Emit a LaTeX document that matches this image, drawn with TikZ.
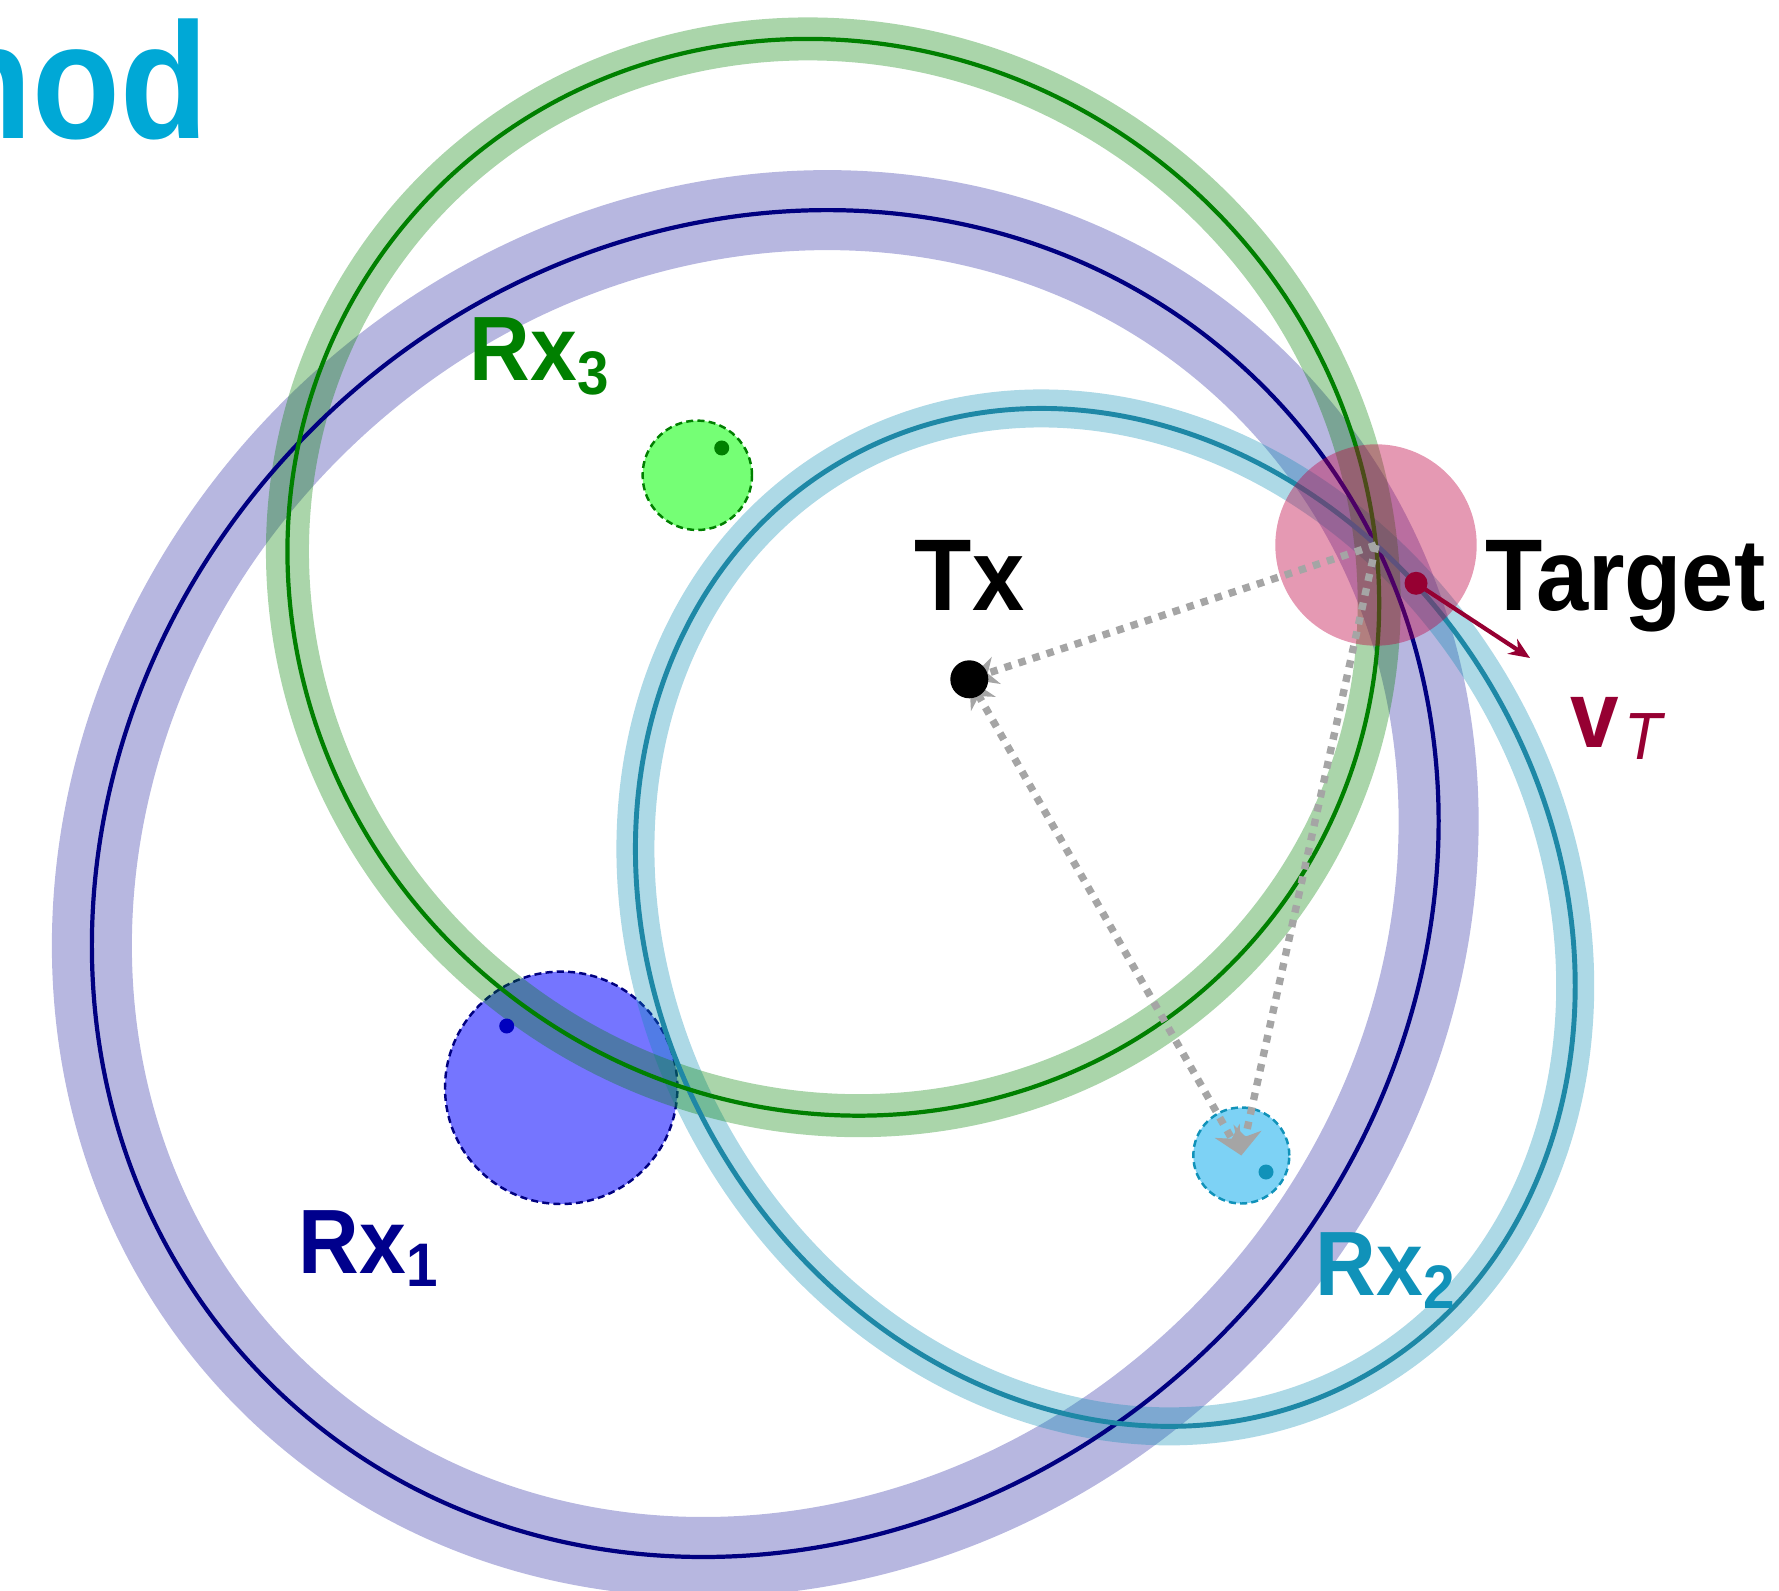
\documentclass[tikz,border=0pt]{standalone}
\usepackage{fontspec}
\setmainfont[FakeStretch=0.92]{Liberation Sans}
\newfontfamily\titlefont[FakeStretch=0.87]{Liberation Sans}
\usetikzlibrary{arrows.meta}

\definecolor{titlecyan}{RGB}{0,168,214}
\definecolor{rxonec}{RGB}{0,0,140}
\definecolor{rxonedot}{RGB}{0,0,190}
\definecolor{navyline}{RGB}{0,0,128}
\definecolor{bandblue}{RGB}{60,60,170}
\definecolor{fillblue}{RGB}{117,117,255}
\definecolor{rxthreec}{RGB}{0,128,0}
\definecolor{fillgreen}{RGB}{117,255,117}
\definecolor{rxtwoc}{RGB}{16,146,185}
\definecolor{lineteal}{RGB}{30,136,166}
\definecolor{bandteal}{RGB}{10,140,180}
\definecolor{fillcyan}{RGB}{125,210,245}
\definecolor{estpink}{RGB}{191,0,64}
\definecolor{targetred}{RGB}{150,0,50}
\definecolor{pathgray}{RGB}{165,165,165}

% transmitter and estimated target position (cm)
\def\TxX{9.693}\def\TxY{9.107}
\def\EX{13.76}\def\EY{10.45}

% bistatic range ellipse: foci Tx and receiver (#1,#2), through the estimate
\newcommand\rangeellipse[3]{%
  \pgfmathsetmacro\elA{0.5*(veclen(\EX-\TxX,\EY-\TxY)+veclen(\EX-#1,\EY-#2))}%
  \pgfmathsetmacro\elC{0.5*veclen(#1-\TxX,#2-\TxY)}%
  \pgfmathsetmacro\elB{sqrt(\elA*\elA-\elC*\elC)}%
  \pgfmathsetmacro\elT{atan2(#2-\TxY,#1-\TxX)}%
  \pgfmathsetmacro\elX{0.5*(#1+\TxX)}%
  \pgfmathsetmacro\elY{0.5*(#2+\TxY)}%
  \draw[shift={(\elX,\elY)}, rotate=\elT, #3] (0,0) ellipse [x radius=\elA, y radius=\elB];%
}

\newcommand\rxsub[1]{Rx\raisebox{-3.8pt}{\fontsize{17.5}{17.5}\selectfont #1}}

\begin{document}
\begin{tikzpicture}[x=1cm,y=1cm,
  rxdisc/.style={circle, inner sep=0pt, line width=0.7pt, dash pattern=on 2pt off 1.2pt},
  dot/.style={circle, inner sep=0pt, draw=none},
  rxlbl/.style={inner sep=0pt, anchor=base west, font=\fontsize{26}{26}\selectfont\bfseries},
  biglbl/.style={inner sep=0pt, anchor=base west, font=\fontsize{29}{29}\selectfont\bfseries},
  pathline/.style={draw=pathgray, line width=2.1pt, dash pattern=on 2.1pt off 2.1pt},
  pathtip/.style={-{Stealth[length=8pt, width=8pt, inset=2.5pt]}}]
\useasboundingbox (0,0) rectangle (17.79,15.90);
\clip (0,0) rectangle (17.79,15.90);

% positions
\coordinate (Tx) at (\TxX,\TxY);
\coordinate (Est) at (\EX,\EY);
\coordinate (R1) at (5.612,5.022);
\coordinate (R2) at (12.413,4.345);
\coordinate (R3) at (6.973,11.147);
\coordinate (Tgt) at (14.16,10.067);
\coordinate (Vtip) at (15.30,9.32);

% title
\node[inner sep=0pt, anchor=base east, text=titlecyan,
      font=\fontsize{47}{47}\titlefont\bfseries] (title) at (2.09,14.51) {Method};

% receiver position uncertainty discs
\node[rxdisc, fill=fillgreen, draw=rxthreec, minimum size=1.094cm] (u3) at (R3) {};
\node[rxdisc, fill=fillblue, draw=navyline, minimum size=2.324cm] (u1) at (R1) {};
\node[rxdisc, fill=fillcyan, draw=rxtwoc, minimum size=0.96cm] (u2) at (R2) {};

% range uncertainty bands
\rangeellipse{5.612}{5.022}{draw=bandblue, draw opacity=0.37, line width=0.80cm}
\rangeellipse{12.413}{4.345}{draw=bandteal, draw opacity=0.333, line width=0.38cm}
\rangeellipse{6.973}{11.147}{draw=rxthreec, draw opacity=0.333, line width=0.43cm}

% nominal range ellipses
\rangeellipse{5.612}{5.022}{draw=navyline, line width=1.2pt}
\rangeellipse{12.413}{4.345}{draw=lineteal, line width=1.4pt}
\rangeellipse{6.973}{11.147}{draw=rxthreec, line width=1.2pt}

% target estimate region
\node[circle, inner sep=0pt, fill=estpink, fill opacity=0.4, minimum size=2.014cm] (est) at (Est) {};

% signal paths
\draw[pathline, pathtip] (Est) -- (Tx);
\draw[pathline, pathtip] (Est) -- (R2);
\draw[pathline, {Stealth[length=8pt, width=8pt, inset=2.5pt]}-{Stealth[length=8pt, width=8pt, inset=2.5pt]}] (Tx) -- (R2);

% transmitter, true receivers and target
\node[dot, fill=black, minimum size=0.38cm] (txdot) at (Tx) {};
\node[dot, fill=rxthreec, minimum size=0.15cm] (r3dot) at (7.217,11.42) {};
\node[dot, fill=rxonedot, minimum size=0.15cm] (r1dot) at (5.067,5.64) {};
\node[dot, fill=rxtwoc, minimum size=0.15cm] (r2dot) at (12.66,4.18) {};
\node[dot, fill=targetred, minimum size=0.23cm] (tdot) at (Tgt) {};
\draw[targetred, line width=1.2pt, -{Stealth[length=6pt, width=5pt]}] (tdot.center) -- (Vtip);

% labels
\node[rxlbl, text=rxthreec] (l3) at (4.69,12.09) {\rxsub{3}};
\node[rxlbl, text=rxonec] (l1) at (2.98,3.17) {\rxsub{1}};
\node[rxlbl, text=rxtwoc] (l2) at (13.15,2.95) {\rxsub{2}};
\node[biglbl] (ltx) at (9.14,9.79) {Tx};
\node[biglbl] (ltgt) at (14.85,9.79) {Target};
\node[inner sep=0pt, anchor=base west, text=targetred] (lv) at (15.70,8.42)
  {\fontsize{27}{27}\selectfont\bfseries v\hspace{1.5pt}\raisebox{-3.4pt}{\fontsize{19}{19}\selectfont\mdseries\itshape T}};
\end{tikzpicture}
\end{document}
